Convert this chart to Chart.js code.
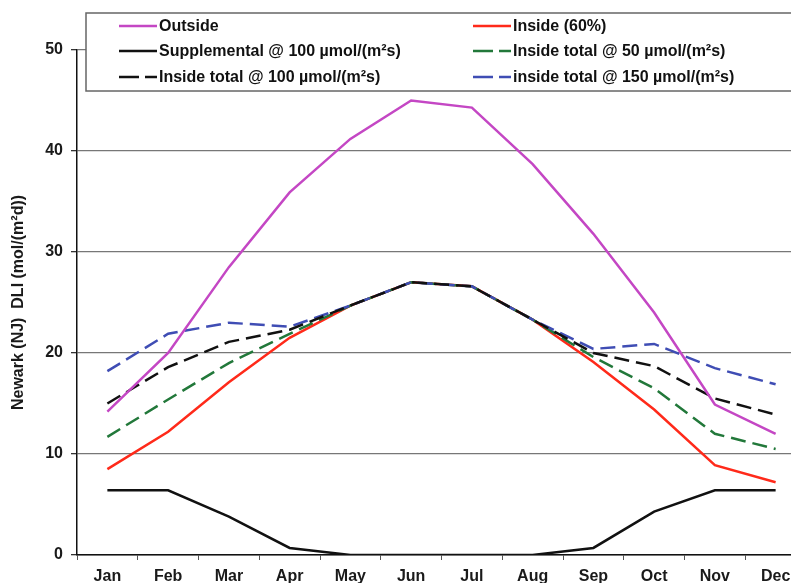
<!DOCTYPE html>
<html>
<head>
<meta charset="utf-8">
<script src="https://cdn.jsdelivr.net/npm/chart.js@4.4.1/dist/chart.umd.min.js"></script>
<style>
  html, body { margin: 0; padding: 0; background: #fff; overflow: hidden; }
  #wrap { width: 806px; height: 583px; }
</style>
</head>
<body>
<div id="wrap"><canvas id="dliChart" width="806" height="583"></canvas></div>
<script>
let months = ['Jan', 'Feb', 'Mar', 'Apr', 'May', 'Jun', 'Jul', 'Aug', 'Sep', 'Oct', 'Nov', 'Dec'];
let outside = [14.2, 20.0, 28.5, 35.9, 41.2, 45.0, 44.3, 38.7, 31.8, 24.0, 14.9, 12.0];
let inside60 = [8.5, 12.2, 17.1, 21.5, 24.7, 27.0, 26.6, 23.3, 19.1, 14.4, 8.9, 7.2];
let supplemental = [6.4, 6.4, 3.8, 0.7, 0, 0, 0, 0, 0.7, 4.3, 6.4, 6.4];
let total50 = [11.7, 15.4, 19.0, 21.9, 24.7, 27.0, 26.6, 23.3, 19.6, 16.5, 12.0, 10.5];
let total100 = [15.0, 18.6, 21.1, 22.3, 24.7, 27.0, 26.6, 23.3, 20.0, 18.7, 15.5, 13.9];
let total150 = [18.2, 21.9, 23.0, 22.6, 24.7, 27.0, 26.6, 23.3, 20.4, 20.9, 18.5, 16.9];
let yTicks = [0, 10, 20, 30, 40, 50];

let font = "'Liberation Sans', Arial, sans-serif";
let dash = [15, 7];

// legend box drawn inside the plot, two columns like the original
let boxLegend = {
    id: 'boxLegend',
    afterDatasetsDraw(chart) {
        let c = chart.ctx;
        c.save();
        c.fillStyle = '#fff';
        c.fillRect(86, 13, 740, 78);
        c.strokeStyle = '#666';
        c.lineWidth = 1.5;
        c.strokeRect(86, 13, 740, 78);
        c.font = 'bold 16px ' + font;
        c.textBaseline = 'middle';
        c.fillStyle = '#111';
        let cols = [119, 473];
        let rows = [26, 51, 77];
        chart.data.datasets.forEach((ds, i) => {
            let x = cols[i % 2];
            let y = rows[Math.floor(i / 2)];
            c.strokeStyle = ds.borderColor;
            c.lineWidth = 2.5;
            c.setLineDash(ds.borderDash && ds.borderDash.length ? [20, 6] : []);
            c.beginPath();
            c.moveTo(x, y);
            c.lineTo(x + 38, y);
            c.stroke();
            c.setLineDash([]);
            c.fillText(ds.label, x + 40, y + 1);
        });
        c.restore();
    }
};

let ctx = document.getElementById('dliChart').getContext('2d');
let myChart = new Chart(ctx, {
    type: 'line',
    data: {
        labels: months,
        datasets: [
            { label: 'Outside', data: outside, borderColor: '#c447c4', order: 1 },
            { label: 'Inside (60%)', data: inside60, borderColor: '#ff2a1a', order: 6 },
            { label: 'Supplemental @ 100 \u00b5mol/(m\u00b2s)', data: supplemental, borderColor: '#111', order: 2 },
            { label: 'Inside total @ 50 \u00b5mol/(m\u00b2s)', data: total50, borderColor: '#22783a', borderDash: dash, order: 5 },
            { label: 'Inside total @ 100 \u00b5mol/(m\u00b2s)', data: total100, borderColor: '#111', borderDash: dash, order: 3 },
            { label: 'inside total @ 150 \u00b5mol/(m\u00b2s)', data: total150, borderColor: '#3f4db4', borderDash: dash, order: 4 }
        ]
    },
    options: {
        responsive: false,
        animation: false,
        layout: { padding: { top: 50, right: 0, bottom: 0, left: 0 } },
        elements: {
            line: { borderWidth: 2.5, tension: 0, fill: false },
            point: { radius: 0, hoverRadius: 0 }
        },
        plugins: {
            legend: { display: false },
            tooltip: { enabled: false }
        },
        scales: {
            x: {
                offset: true,
                grid: { offset: true, drawOnChartArea: false, tickLength: 5, color: '#555', lineWidth: 1 },
                border: { color: '#111', width: 1.5 },
                ticks: { color: '#1a1a1a', font: { family: font, size: 16, weight: 'bold' }, padding: 7, maxRotation: 0 },
                afterFit: (s) => { s.height = 28; }
            },
            y: {
                min: 0,
                max: 50,
                afterBuildTicks: (s) => { s.ticks = yTicks.map(v => ({ value: v })); },
                grid: { color: '#777', lineWidth: 1.3, tickLength: 6, tickColor: '#333' },
                border: { color: '#111', width: 1.5 },
                ticks: { color: '#1a1a1a', font: { family: font, size: 16, weight: 'bold' }, padding: 8 },
                title: {
                    display: true,
                    text: 'Newark (NJ)  DLI (mol/(m\u00b2d))',
                    color: '#1a1a1a',
                    font: { family: font, size: 16, weight: 'bold' },
                    padding: { top: 9, bottom: 6 }
                },
                afterFit: (s) => { s.width = 77; }
            }
        }
    },
    plugins: [boxLegend]
});
</script>
</body>
</html>
